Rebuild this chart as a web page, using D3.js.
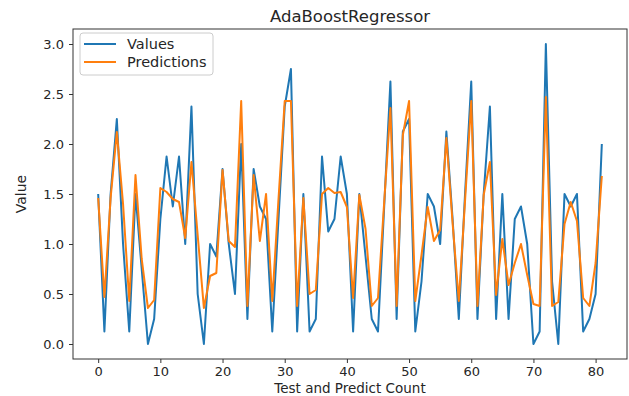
<!DOCTYPE html>
<html>
<head>
<meta charset="utf-8">
<script src="https://cdn.jsdelivr.net/npm/d3@7"></script>
<style>
  body { margin: 0; background: #fff; }
  text { font-family: "DejaVu Sans", sans-serif; fill: #262626; }
</style>
</head>
<body>
<div id="chart"></div>
<script>
// Actual values and AdaBoost predictions, one per test sample
const values = [
  1.5, 0.125, 1.5, 2.25, 1.0, 0.125, 1.5, 0.75, 0, 0.25,
  1.25, 1.875, 1.375, 1.875, 1.0, 2.375, 0.5, 0, 1.0, 0.875,
  1.75, 1.0, 0.5, 2.0, 0.25, 1.75, 1.375, 1.25, 0.125, 1.25,
  2.375, 2.75, 0.125, 1.5, 0.125, 0.25, 1.875, 1.125, 1.25, 1.875,
  1.5, 0.125, 1.5, 0.875, 0.25, 0.125, 1.375, 2.625, 0.25, 2.125,
  2.25, 0.125, 0.625, 1.5, 1.375, 1.0, 2.125, 1.25, 0.25, 1.5,
  2.625, 0.25, 1.5, 2.375, 0.25, 1.5, 0.25, 1.25, 1.375, 1.0,
  0, 0.125, 3.0, 0.625, 0, 1.5, 1.375, 1.5, 0.125, 0.25,
  0.5, 2.0
];
const predictions = [
  1.46, 0.47, 1.46, 2.12, 1.4, 0.43, 1.69, 0.85, 0.36, 0.44,
  1.56, 1.52, 1.45, 1.42, 1.06, 1.82, 1.09, 0.36, 0.68, 0.71,
  1.74, 1.03, 0.97, 2.43, 0.38, 1.69, 1.03, 1.5, 0.43, 1.45,
  2.43, 2.43, 0.38, 1.46, 0.5, 0.54, 1.5, 1.56, 1.51, 1.52,
  1.37, 0.46, 1.49, 1.15, 0.38, 0.46, 1.42, 2.36, 0.38, 2.09,
  2.43, 0.43, 0.89, 1.37, 1.03, 1.14, 2.06, 1.21, 0.43, 1.43,
  2.43, 0.38, 1.49, 1.82, 0.49, 1.05, 0.59, 0.81, 1.0, 0.69,
  0.4, 0.38, 2.47, 0.38, 0.42, 1.2, 1.42, 1.23, 0.46, 0.38,
  0.81, 1.68
];
const xTicks = [0, 10, 20, 30, 40, 50, 60, 70, 80];
const yTicks = [0, 0.5, 1.0, 1.5, 2.0, 2.5, 3.0];
const seriesNames = ["Values", "Predictions"];
const colors = ["#1f77b4", "#ff7f0e"];

const width = 629, height = 396;
const margin = { top: 29, right: 2, bottom: 37, left: 73 };

const svg = d3.select("#chart").append("svg")
  .attr("width", width)
  .attr("height", height);

const x = d3.scaleLinear()
  .domain([-4.05, 85.05])
  .range([margin.left, width - margin.right]);

const y = d3.scaleLinear()
  .domain([-0.15, 3.15])
  .range([height - margin.bottom, margin.top]);

// axes
const xAxis = svg.append("g")
  .attr("transform", `translate(0,${height - margin.bottom})`)
  .call(d3.axisBottom(x).tickValues(xTicks).tickSize(4).tickPadding(4).tickFormat(d3.format("d")));

const yAxis = svg.append("g")
  .attr("transform", `translate(${margin.left},0)`)
  .call(d3.axisLeft(y).tickValues(yTicks).tickSize(4).tickPadding(5).tickFormat(d3.format(".1f")));

[xAxis, yAxis].forEach(a => {
  a.select(".domain").remove();
  a.selectAll("line").attr("stroke", "#333");
  a.selectAll("text").attr("font-size", 13).attr("font-family", "DejaVu Sans").attr("fill", "#262626");
});

// frame
svg.append("rect")
  .attr("x", margin.left)
  .attr("y", margin.top)
  .attr("width", width - margin.left - margin.right)
  .attr("height", height - margin.top - margin.bottom)
  .attr("fill", "none")
  .attr("stroke", "#333")
  .attr("stroke-width", 1);

// lines
const line = d3.line()
  .x((d, i) => x(i))
  .y(d => y(d));

[values, predictions].forEach((s, k) => {
  svg.append("path")
    .datum(s)
    .attr("fill", "none")
    .attr("stroke", colors[k])
    .attr("stroke-width", 2)
    .attr("stroke-linejoin", "round")
    .attr("d", line);
});

// title and labels
svg.append("text")
  .attr("x", (margin.left + width - margin.right) / 2)
  .attr("y", 22)
  .attr("text-anchor", "middle")
  .attr("font-size", 16.5)
  .text("AdaBoostRegressor");

svg.append("text")
  .attr("x", (margin.left + width - margin.right) / 2)
  .attr("y", 392.5)
  .attr("text-anchor", "middle")
  .attr("font-size", 13.5)
  .text("Test and Predict Count");

svg.append("text")
  .attr("transform", `translate(26,${(margin.top + height - margin.bottom) / 2}) rotate(-90)`)
  .attr("text-anchor", "middle")
  .attr("font-size", 14)
  .text("Value");

// legend
const legend = svg.append("g").attr("transform", `translate(${margin.left + 7},${margin.top + 4})`);
legend.append("rect")
  .attr("width", 133)
  .attr("height", 42)
  .attr("rx", 3)
  .attr("fill", "#fff")
  .attr("fill-opacity", 0.8)
  .attr("stroke", "#ccc");

seriesNames.forEach((name, k) => {
  const g = legend.append("g").attr("transform", `translate(4,${11 + k * 18})`);
  g.append("line")
    .attr("x1", 0).attr("x2", 32)
    .attr("stroke", colors[k])
    .attr("stroke-width", 2);
  g.append("text")
    .attr("x", 43)
    .attr("dy", "0.35em")
    .attr("font-size", 14.5)
    .text(name);
});
</script>
</body>
</html>
